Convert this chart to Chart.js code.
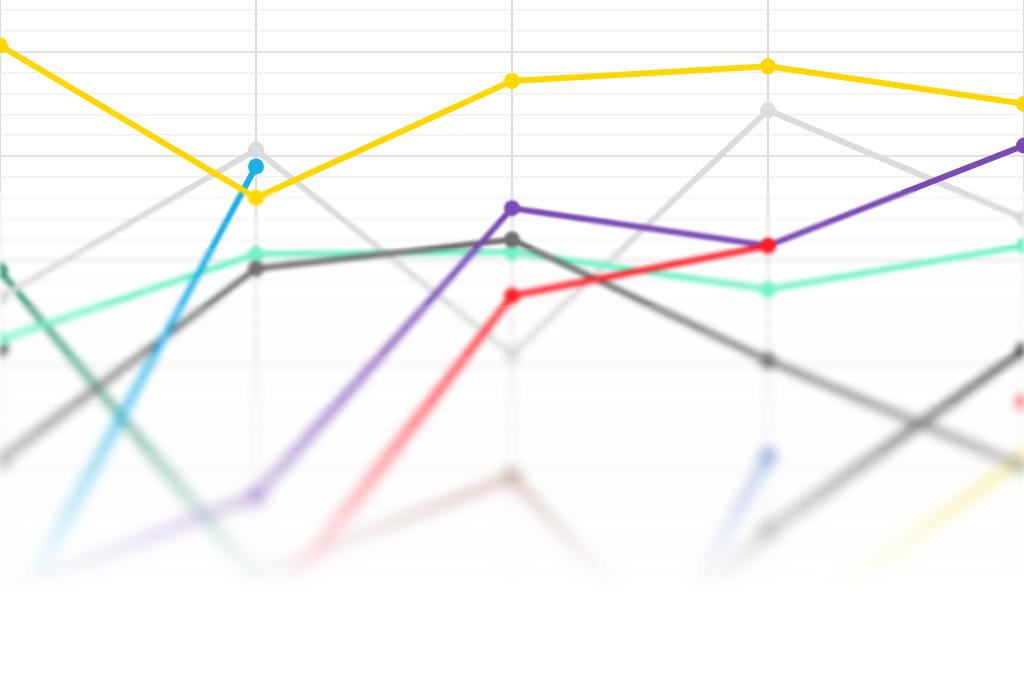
<!DOCTYPE html>
<html lang="es">
<head>
<meta charset="utf-8">
<title>Lineas</title>
<script src="https://cdn.jsdelivr.net/npm/chart.js@4.4.1/dist/chart.umd.min.js"></script>
<style>
  html, body { margin: 0; padding: 0; background: #fff; }
  #contenedor { width: 1024px; height: 683px; position: relative; overflow: hidden; }
</style>
</head>
<body>
<div id="contenedor"><canvas id="graficoLineas"></canvas></div>
<script>
// Datos (escala: rejilla cada 1, línea fuerte cada 5)
const categorias = ['A', 'B', 'C', 'D', 'E'];
const serieAmarilla   = [30.3, 23.0, 28.6, 29.3, 27.5];
const serieRoja       = [null, 2.3, 18.3, 20.7, null];
const serieMorada     = [3.8, 8.7, 22.5, 20.7, 25.5];
const serieCeleste    = [1.7, 24.5, null, null, null];
const serieGrisOscura = [10.4, 19.6, 21.0, 15.2, 10.1];
const serieMenta      = [16.2, 20.3, 20.4, 18.6, 20.7];
const serieGrisClara  = [18.2, 25.3, 15.5, 27.2, 22.0];
const serieVerde      = [19.5, 4.7, null, null, null];
const serieNegra      = [15.8, null, -6.0, 7.0, 15.7];
const serieMarron     = [null, 4.8, 9.6, -3.9, null];
const serieAzul       = [null, null, -12.0, 10.6, null];
const serieCoral      = [null, null, null, null, 13.2];
const serieLimon      = [null, null, null, 1.6, 10.6];

const rangoY = { min: -0.26, max: 32.48 };

function linea(label, data, color) {
  return {
    label,
    data,
    borderColor: color,
    backgroundColor: color,
    pointBackgroundColor: color,
    pointBorderWidth: 0,
    pointRadius: 8,
    borderWidth: 6,
    tension: 0,
    spanGaps: false
  };
}

// Desenfoque progresivo hacia abajo y desvanecido a blanco
const desenfoque = {
  id: 'desenfoque',
  afterDraw(chart) {
    const { ctx, canvas } = chart;
    const dpr = chart.currentDevicePixelRatio || 1;
    const w = canvas.width, h = canvas.height;
    const copia = document.createElement('canvas');
    copia.width = w; copia.height = h;
    copia.getContext('2d').drawImage(canvas, 0, 0);

    ctx.save();
    ctx.setTransform(1, 0, 0, 1, 0, 0);
    const paso = 3 * dpr;
    for (let y = 140 * dpr; y < h; y += paso) {
      const d = y / dpr - 140;
      const radio = (0.016 * d + 0.000012 * d * d) * dpr;
      if (radio < 0.3) continue;
      const sy = Math.max(0, Math.floor(y - radio * 3));
      const ey = Math.min(h, Math.ceil(y + paso + radio * 3));
      ctx.save();
      ctx.beginPath();
      ctx.rect(0, y, w, paso);
      ctx.clip();
      ctx.clearRect(0, y, w, paso);
      ctx.filter = `blur(${radio}px)`;
      ctx.drawImage(copia, 0, sy, w, ey - sy, 0, sy, w, ey - sy);
      ctx.restore();
    }
    const g = ctx.createLinearGradient(0, 420 * dpr, 0, 590 * dpr);
    g.addColorStop(0, 'rgba(255,255,255,0)');
    g.addColorStop(0.5, 'rgba(255,255,255,0.35)');
    g.addColorStop(0.8, 'rgba(255,255,255,0.72)');
    g.addColorStop(1, 'rgba(255,255,255,1)');
    ctx.fillStyle = g;
    ctx.fillRect(0, 420 * dpr, w, h - 420 * dpr);
    ctx.restore();
  }
};

document.addEventListener('DOMContentLoaded', () => {
  const ctx = document.getElementById('graficoLineas').getContext('2d');

  new Chart(ctx, {
    type: 'line',
    data: {
      labels: categorias,
      datasets: [
        linea('Amarilla', serieAmarilla, '#FFD700'),
        linea('Roja', serieRoja, '#FF1E27'),
        linea('Morada', serieMorada, '#7A4BB4'),
        linea('Celeste', serieCeleste, '#1BB0E9'),
        linea('Gris oscura', serieGrisOscura, '#707070'),
        linea('Menta', serieMenta, '#72F2C6'),
        linea('Gris clara', serieGrisClara, '#DCDCDC'),
        linea('Verde', serieVerde, '#3F9A80'),
        linea('Negra', serieNegra, '#3C3C3C'),
        linea('Marrón', serieMarron, '#B08078'),
        linea('Azul', serieAzul, '#7090D8'),
        linea('Coral', serieCoral, '#FF4A4A'),
        linea('Limón', serieLimon, '#F0E040')
      ]
    },
    options: {
      responsive: true,
      maintainAspectRatio: false,
      animation: false,
      layout: { padding: 0, autoPadding: false },
      plugins: {
        legend: { display: false },
        tooltip: { enabled: false }
      },
      scales: {
        x: {
          offset: false,
          ticks: { display: false },
          border: { display: false },
          grid: { color: '#dadada', lineWidth: 2, drawTicks: false }
        },
        y: {
          min: rangoY.min,
          max: rangoY.max,
          ticks: { display: false },
          border: { display: false },
          afterBuildTicks: (scale) => {
            const marcas = [];
            for (let v = Math.ceil(rangoY.min); v <= rangoY.max; v++) marcas.push({ value: v });
            scale.ticks = marcas;
          },
          grid: {
            drawTicks: false,
            color: (c) => (c.tick && c.tick.value % 5 === 0) ? '#e2e2e2' : '#f0f0f0',
            lineWidth: (c) => (c.tick && c.tick.value % 5 === 0) ? 2 : 1.5
          }
        }
      }
    },
    plugins: [desenfoque]
  });
});
</script>
</body>
</html>
